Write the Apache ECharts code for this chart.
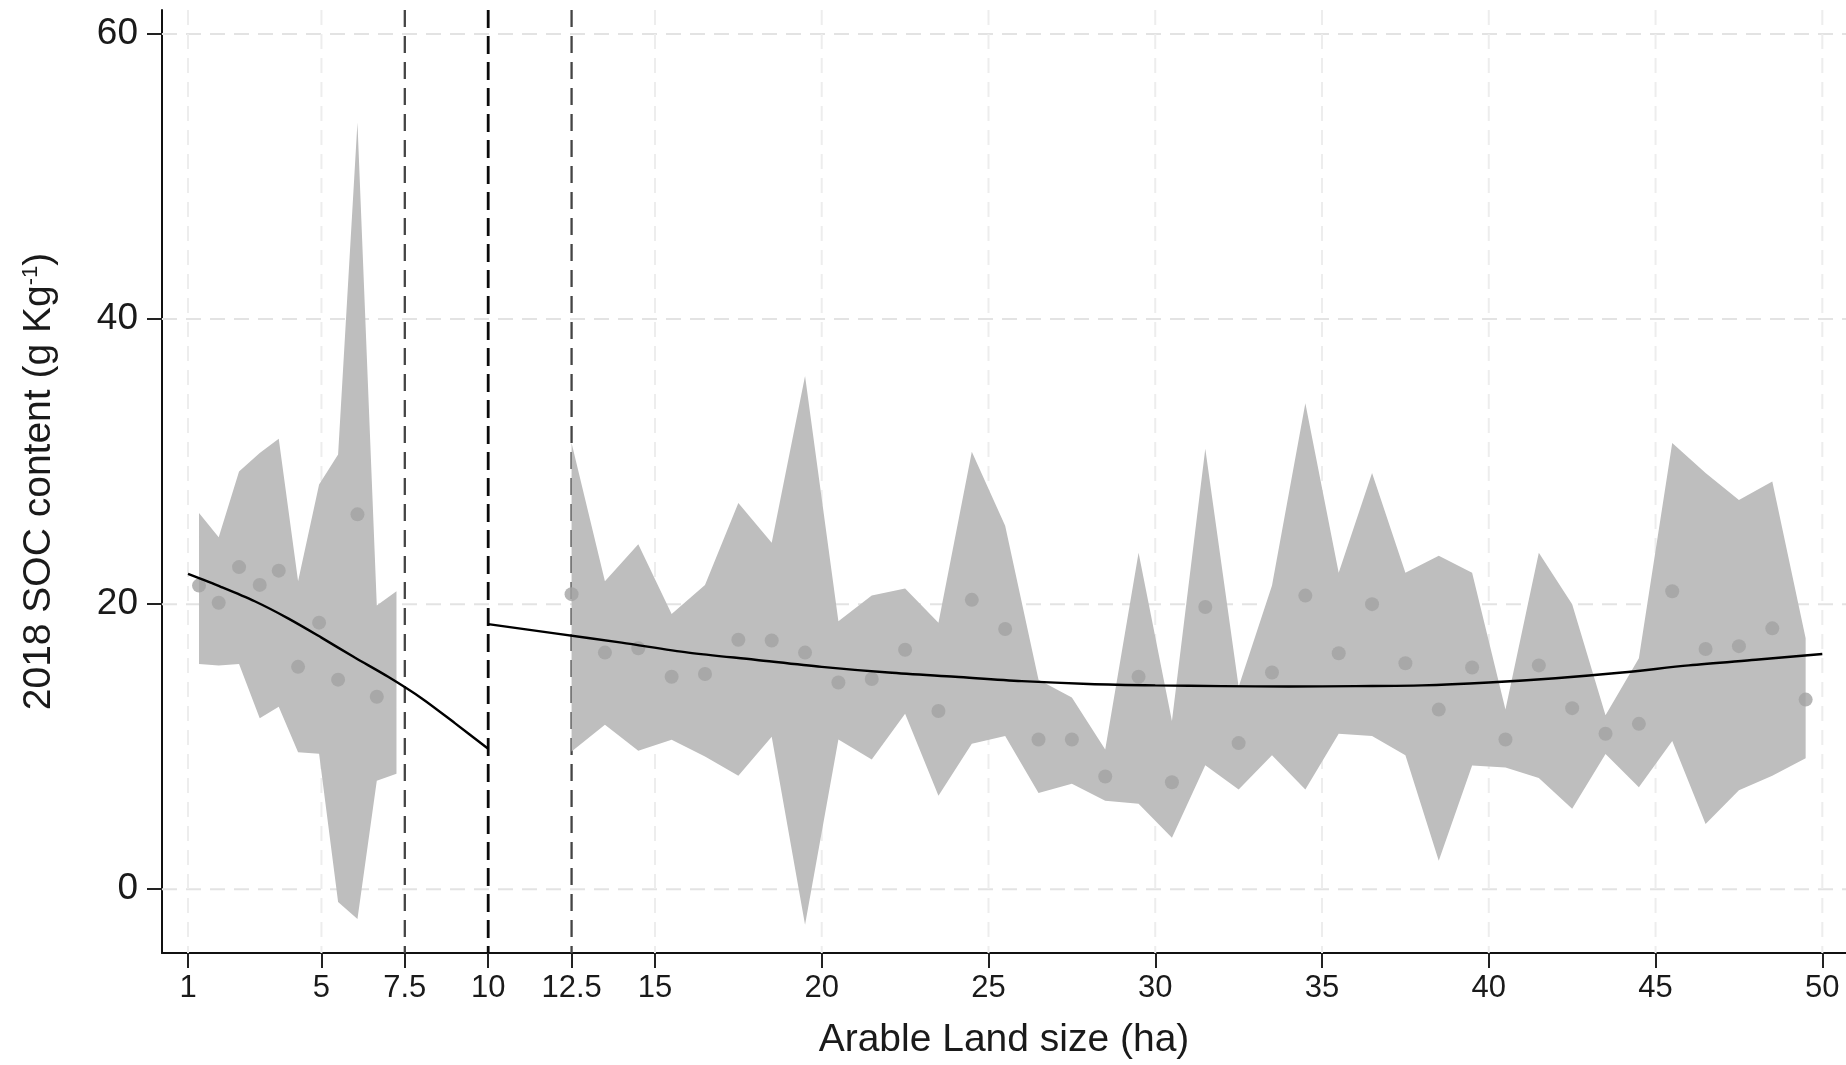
<!DOCTYPE html>
<html>
<head>
<meta charset="utf-8">
<script src="https://cdn.jsdelivr.net/npm/echarts@6/dist/echarts.min.js"></script>
<style>
html,body{margin:0;padding:0;background:#fff;}
#main{width:1846px;height:1065px;}
</style>
</head>
<body>
<div id="main"></div>
<script>
// ---- data ----
const xTicks = [1, 5, 7.5, 10, 12.5, 15, 20, 25, 30, 35, 40, 45, 50];
const yTicks = [0, 20, 40, 60];
const xGrid = [1, 5, 15, 20, 25, 30, 35, 40, 45, 50];
const refLinesGray = [7.5, 12.5];
const refLinesBlack = [10];

// left of cutoff: bins
const leftX = [1.33, 1.92, 2.53, 3.15, 3.72, 4.3, 4.93, 5.5, 6.08, 6.66];
const leftMean = [21.3, 20.1, 22.6, 21.35, 22.35, 15.6, 18.7, 14.7, 26.3, 13.5];
const leftBandX = [1.33, 1.92, 2.53, 3.15, 3.72, 4.3, 4.93, 5.5, 6.08, 6.66, 7.25];
const leftUpper = [26.4, 24.7, 29.3, 30.6, 31.6, 21.6, 28.4, 30.5, 53.8, 19.9, 20.9];
const leftLower = [15.8, 15.7, 15.8, 12.0, 12.8, 9.6, 9.5, -0.9, -2.1, 7.6, 8.1];

// right of cutoff: bins
const rightX = [12.5, 13.5, 14.5, 15.5, 16.5, 17.5, 18.5, 19.5, 20.5, 21.5, 22.5, 23.5, 24.5,
  25.5, 26.5, 27.5, 28.5, 29.5, 30.5, 31.5, 32.5, 33.5, 34.5, 35.5, 36.5, 37.5, 38.5, 39.5,
  40.5, 41.5, 42.5, 43.5, 44.5, 45.5, 46.5, 47.5, 48.5, 49.5];
const rightMean = [20.7, 16.6, 16.9, 14.9, 15.1, 17.5, 17.45, 16.6, 14.5, 14.75, 16.8, 12.5, 20.3,
  18.25, 10.5, 10.5, 7.9, 14.9, 7.5, 19.8, 10.25, 15.2, 20.6, 16.55, 20.0, 15.85, 12.6, 15.55,
  10.5, 15.7, 12.7, 10.9, 11.6, 20.9, 16.85, 17.05, 18.3, 13.3];
const rightUpper = [31.3, 21.6, 24.2, 19.3, 21.35, 27.1, 24.3, 36.0, 18.8, 20.6, 21.1, 18.7, 30.7,
  25.5, 14.7, 13.45, 9.8, 23.6, 11.8, 30.9, 14.2, 21.3, 34.1, 22.2, 29.2, 22.2, 23.4, 22.2,
  12.6, 23.6, 20.0, 12.2, 16.2, 31.3, 29.2, 27.3, 28.6, 17.6];
const rightLower = [9.66, 11.54, 9.71, 10.48, 9.3, 7.95, 10.7, -2.5, 10.5, 9.1, 12.3, 6.55, 10.2,
  10.75, 6.75, 7.4, 6.2, 6.0, 3.6, 8.7, 7.0, 9.4, 7.0, 10.9, 10.75, 9.4, 2.0, 8.67,
  8.53, 7.8, 5.64, 9.48, 7.15, 10.4, 4.57, 6.94, 7.95, 9.19];

// fitted polynomial lines
const leftFitX = [1, 2, 3, 4, 5, 6, 7, 8, 9, 10];
const leftFitY = [22.12, 21.2, 20.2, 19.0, 17.65, 16.25, 14.9, 13.4, 11.65, 9.85];
const rightFitX = [10, 12, 14, 16, 18, 20, 22, 24, 26, 28, 30, 32, 34, 36, 38, 40, 42, 44, 46, 48, 50];
const rightFitY = [18.6, 17.95, 17.3, 16.6, 16.1, 15.6, 15.2, 14.9, 14.6, 14.4, 14.3, 14.25, 14.22,
  14.25, 14.3, 14.5, 14.8, 15.2, 15.7, 16.1, 16.5];

// ---- build chart ----
const zip = (xs, ys) => xs.map((x, i) => [x, ys[i]]);
const bands = [
  {x: leftBandX, up: leftUpper, lo: leftLower},
  {x: rightX, up: rightUpper, lo: rightLower}
];
const FONT = "'Liberation Sans', Arial, sans-serif";
const TXT = '#1a1a1a';

function vLine(color, width, dash) {
  return function (params, api) {
    const cs = params.coordSys;
    const x = api.coord([api.value(0), 0])[0];
    return {
      type: 'line',
      shape: {x1: x, y1: cs.y, x2: x, y2: cs.y + cs.height},
      style: {stroke: color, lineWidth: width, lineDash: dash}
    };
  };
}
function hLine(color, width, dash) {
  return function (params, api) {
    const cs = params.coordSys;
    const y = api.coord([1, api.value(0)])[1];
    return {
      type: 'line',
      shape: {x1: cs.x, y1: y, x2: cs.x + cs.width, y2: y},
      style: {stroke: color, lineWidth: width, lineDash: dash}
    };
  };
}

const option = {
  backgroundColor: '#ffffff',
  animation: false,
  grid: {left: 162, right: 0, top: 10, bottom: 110, containLabel: false},
  xAxis: {
    type: 'value',
    min: 0.22, max: 50.71,
    name: 'Arable Land size (ha)',
    nameLocation: 'middle',
    nameGap: 68,
    nameTextStyle: {fontFamily: FONT, fontSize: 39, color: TXT},
    axisLine: {show: true, onZero: false, lineStyle: {color: '#111', width: 2}},
    axisTick: {show: true, customValues: xTicks, length: 15, lineStyle: {color: '#222', width: 2}},
    axisLabel: {show: true, customValues: xTicks, margin: 20, fontFamily: FONT, fontSize: 31, color: TXT,
      formatter: v => String(v)},
    splitLine: {show: false}
  },
  yAxis: {
    type: 'value',
    min: -4.48, max: 61.69,
    name: '2018 SOC content (g Kg{sup|-1})',
    nameLocation: 'middle',
    nameGap: 103,
    nameRotate: 90,
    nameTextStyle: {fontFamily: FONT, fontSize: 39, color: TXT,
      rich: {sup: {fontFamily: FONT, fontSize: 22, color: TXT, verticalAlign: 'top', lineHeight: 22, padding: [0, 0, 18, 0]}}},
    axisLine: {show: true, onZero: false, lineStyle: {color: '#111', width: 2}},
    axisTick: {show: true, customValues: yTicks, length: 15, lineStyle: {color: '#222', width: 2}},
    axisLabel: {show: true, customValues: yTicks, margin: 24, fontFamily: FONT, fontSize: 37, color: TXT},
    splitLine: {show: false}
  },
  series: [
    {
      type: 'custom', name: 'hgrid', z: 1, silent: true,
      renderItem: hLine('#e3e3e3', 2, [15, 9]),
      data: yTicks.map(v => [v])
    },
    {
      type: 'custom', name: 'vgrid', z: 1, silent: true,
      renderItem: vLine('#ededed', 2, [15, 9]),
      data: xGrid.map(v => [v])
    },
    {
      type: 'custom', name: 'refGray', z: 2, silent: true,
      renderItem: vLine('#444444', 2.3, [17, 9]),
      data: refLinesGray.map(v => [v])
    },
    {
      type: 'custom', name: 'refBlack', z: 2, silent: true,
      renderItem: vLine('#0a0a0a', 2.8, [18, 8]),
      data: refLinesBlack.map(v => [v])
    },
    {
      type: 'custom', name: 'band', z: 3, silent: true,
      renderItem: function (params, api) {
        const b = bands[params.dataIndex];
        const pts = [];
        for (let i = 0; i < b.x.length; i++) pts.push(api.coord([b.x[i], b.up[i]]));
        for (let i = b.x.length - 1; i >= 0; i--) pts.push(api.coord([b.x[i], b.lo[i]]));
        return {type: 'polygon', shape: {points: pts}, style: {fill: '#bebebe', stroke: null}};
      },
      data: [[leftBandX[0], leftLower[0]], [rightX[0], rightLower[0]]]
    },
    {
      type: 'scatter', name: 'leftBins', z: 4, symbol: 'circle', symbolSize: 14,
      itemStyle: {color: '#a3a3a3'},
      data: zip(leftX, leftMean)
    },
    {
      type: 'scatter', name: 'rightBins', z: 4, symbol: 'circle', symbolSize: 14,
      itemStyle: {color: '#a3a3a3'},
      data: zip(rightX, rightMean)
    },
    {
      type: 'line', name: 'leftFit', z: 5, showSymbol: false, smooth: 0.3,
      lineStyle: {color: '#000', width: 2.4},
      data: zip(leftFitX, leftFitY)
    },
    {
      type: 'line', name: 'rightFit', z: 5, showSymbol: false, smooth: 0.3,
      lineStyle: {color: '#000', width: 2.4},
      data: zip(rightFitX, rightFitY)
    }
  ]
};
const chart = echarts.init(document.getElementById('main'), null, {renderer: 'canvas'});
chart.setOption(option);
</script>
</body>
</html>
